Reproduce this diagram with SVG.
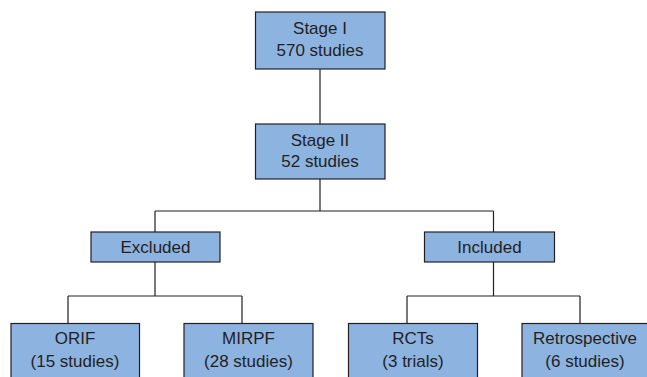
<svg xmlns="http://www.w3.org/2000/svg" width="647" height="377" viewBox="0 0 647 377">
<style>
.box{fill:#8db3e0;stroke:#231f20;stroke-width:1.2}
.conn{fill:none;stroke:#231f20;stroke-width:1.2}
text{font-family:"Liberation Sans",Arial,sans-serif;font-size:17px;fill:#231f20;text-anchor:middle}
</style>
<rect width="647" height="377" fill="#ffffff"/>
<g id="connectors">
<path class="conn" d="M320,69 V124"/>
<path class="conn" d="M320,179 V211 M155,211 H493.5 M155,211 V232 M493.5,211 V232"/>
<path class="conn" d="M155,262 V296 M68,296 H242 M68,296 V323 M242,296 V323"/>
<path class="conn" d="M493.5,262 V296 M407,296 H580 M407,296 V323 M580,296 V323"/>
</g>
<g id="stage1">
<rect class="box" x="255.5" y="12" width="129.5" height="57"/>
<text x="320" y="33.5">Stage I</text>
<text x="320" y="55.5">570 studies</text>
</g>
<g id="stage2">
<rect class="box" x="255.5" y="124" width="129.5" height="55"/>
<text x="320" y="145.5">Stage II</text>
<text x="320" y="167">52 studies</text>
</g>
<g id="excluded">
<rect class="box" x="91" y="232" width="129" height="30"/>
<text x="155.5" y="253">Excluded</text>
</g>
<g id="included">
<rect class="box" x="424.5" y="232" width="130" height="30"/>
<text x="489.5" y="253">Included</text>
</g>
<g id="orif">
<rect class="box" x="11" y="323.5" width="128.5" height="60"/>
<text x="75" y="344">ORIF</text>
<text x="75" y="366.5">(15 studies)</text>
</g>
<g id="mirpf">
<rect class="box" x="184" y="323.5" width="129" height="60"/>
<text x="248.5" y="344">MIRPF</text>
<text x="248.5" y="366.5">(28 studies)</text>
</g>
<g id="rcts">
<rect class="box" x="348.5" y="323.5" width="129" height="60"/>
<text x="413" y="344">RCTs</text>
<text x="413" y="366.5">(3 trials)</text>
</g>
<g id="retrospective">
<rect class="box" x="522" y="323.5" width="130" height="60"/>
<text x="585" y="344">Retrospective</text>
<text x="585" y="366.5">(6 studies)</text>
</g>
</svg>
